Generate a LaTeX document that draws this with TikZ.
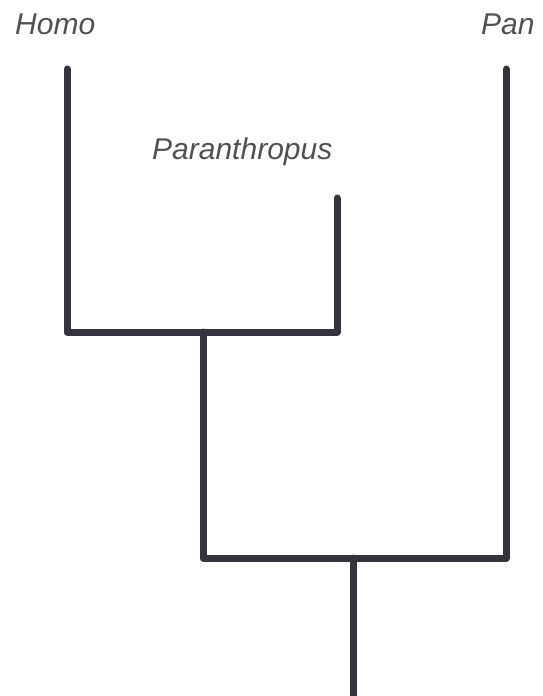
\documentclass[tikz,border=0pt]{standalone}
\usepackage{fontspec}
\setmainfont{Liberation Sans}
\usetikzlibrary{positioning}
\definecolor{branchcol}{HTML}{34343E}
\definecolor{labelcol}{HTML}{505050}

\begin{document}
\begin{tikzpicture}[
  x=1pt, y=-1pt,
  branch/.style={draw=branchcol, line width=7pt, line join=round, line cap=round},
  taxon/.style={font=\fontsize{30}{36}\selectfont\itshape, text=labelcol, inner sep=0pt, anchor=base west}
]
\useasboundingbox (0,0) rectangle (543,696);
% tips and forks of the tree
\coordinate (homo) at (67,69);
\coordinate (para) at (337,198);
\coordinate (pan) at (506,69);
\coordinate (hp) at (203,332);
\coordinate (root) at (353,558);
\coordinate (base) at (353,710);
% taxon names
\node[taxon] (homolabel) at (15,34.5) {Homo};
\node[taxon] (paralabel) at (152,159) {Paranthropus};
\node[taxon] (panlabel) at (481,34.5) {Pan};
% branches
\draw[branch] (homo) |- (hp) -| (para);
\draw[branch] (hp) |- (root) -| (pan);
\draw[branch] (root) -- (base);
\end{tikzpicture}
\end{document}
